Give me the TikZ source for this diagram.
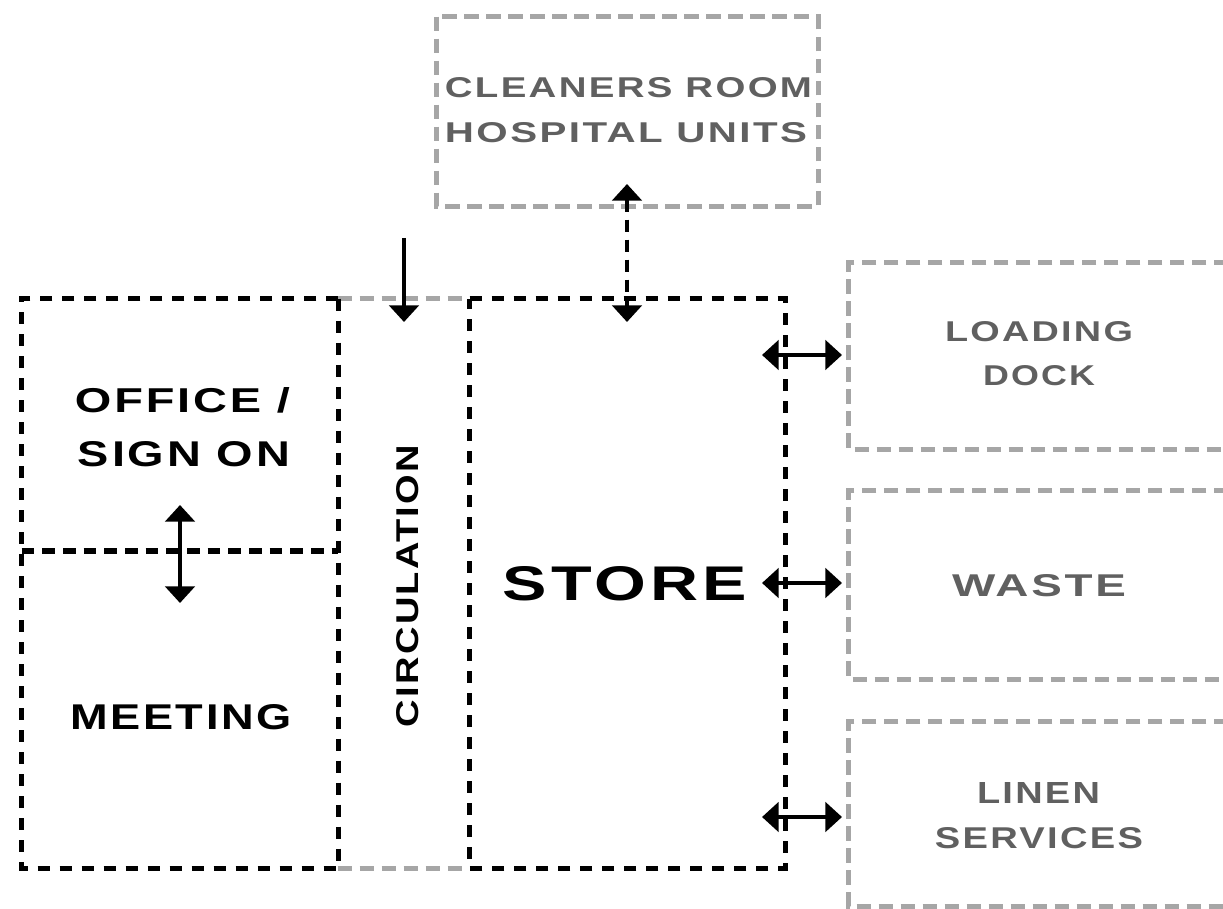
\documentclass[tikz,border=0pt]{standalone}
\usepackage{fontspec}
\usepackage{graphicx}
\usetikzlibrary{arrows.meta,fit}
\newfontfamily\wf[LetterSpace=6]{Liberation Sans}
\newdimen\pxu \pxu=0.75pt
\newcommand{\lab}[3]{\resizebox{#1\pxu}{#2\pxu}{\wf\bfseries #3}}
\definecolor{lgray}{HTML}{A6A6A6}
\definecolor{tgray}{HTML}{606060}
\tikzset{
  blk/.style={draw=black, line width=3.5pt, dash pattern=on 9pt off 7.5pt},
  divline/.style={draw=black, line width=4.2pt, dash pattern=on 9.5pt off 6pt},
  gry/.style={draw=lgray, line width=3.5pt, dash pattern=on 11pt off 5.5pt},
  area/.style={inner sep=0pt, draw=none},
  btxt/.style={inner sep=0pt, anchor=base, text=black},
  gtxt/.style={inner sep=0pt, anchor=base, text=tgray},
  arr/.style={line width=3pt, -{Triangle[length=12.5pt,width=22pt]}},
  dblarr/.style={line width=3pt, {Triangle[length=12.5pt,width=22pt]}-{Triangle[length=12.5pt,width=22pt]}},
  dshdbl/.style={line width=3pt, dash pattern=on 9pt off 6pt, {Triangle[length=12.5pt,width=22pt]}-{Triangle[length=12.5pt,width=22pt]}}
}
\begin{document}
\begin{tikzpicture}[x=0.75pt,y=-0.75pt]
\useasboundingbox (0,0) rectangle (1223,909);
\clip (0,0) rectangle (1223,909);
% areas
\node[area, fit={(437,17)(818,206)}] (cleaners) {};
\node[area, fit={(849,263)(1250,449)}] (loading) {};
\node[area, fit={(849,491)(1250,679)}] (waste) {};
\node[area, fit={(849,722)(1250,906)}] (linen) {};
\node[area, fit={(22,299)(338,551)}] (office) {};
\node[area, fit={(22,551)(338,868)}] (meeting) {};
\node[area, fit={(338,299)(470,868)}] (circ) {};
\node[area, fit={(470,299)(785,868)}] (store) {};
% gray outlines
\draw[gry] (cleaners.north west) rectangle (cleaners.south east);
\draw[gry] (loading.north east) -- (loading.north west) -- (loading.south west) -- (loading.south east);
\draw[gry] (waste.north east) -- (waste.north west) -- (waste.south west) -- (waste.south east);
\draw[gry] (linen.north east) -- (linen.north west) -- (linen.south west) -- (linen.south east);
\draw[gry] (circ.north west) -- (circ.north east);
\draw[gry] (circ.south west) -- (circ.south east);
% black outlines
\draw[blk] (office.north east) -- (office.north west) -- (meeting.south west) -- (meeting.south east);
\draw[blk] (office.north east) -- (meeting.south east);
\draw[blk] (store.north west) -- (store.north east) -- (store.south east) -- (store.south west) -- cycle;
\draw[divline] (office.south west) -- (office.south east);
% texts
\node[gtxt] (t1) at (628.5,98) {\lab{367}{20}{CLEANERS ROOM}};
\node[gtxt] (t2) at (626,143) {\lab{362}{20}{HOSPITAL UNITS}};
\node[btxt] (t3) at (182.5,412) {\lab{215}{25}{OFFICE /}};
\node[btxt] (t4) at (184,466) {\lab{212}{25}{SIGN ON}};
\node[btxt] (t5) at (181,729) {\lab{222}{25}{MEETING}};
\node[btxt, rotate=90] (t6) at (418,586) {\lab{282}{22}{CIRCULATION}};
\node[btxt] (t7) at (625,600) {\lab{244}{34}{STORE}};
\node[gtxt] (t8) at (1039,341) {\lab{188}{20}{LOADING}};
\node[gtxt] (t9) at (1039,385) {\lab{112}{20}{DOCK}};
\node[gtxt] (t10) at (1039,596) {\lab{174}{22}{WASTE}};
\node[gtxt] (t11) at (1038.5,803) {\lab{123}{21}{LINEN}};
\node[gtxt] (t12) at (1039,848) {\lab{208}{21}{SERVICES}};
% arrow ends
\coordinate (inS) at (404,238);
\coordinate (inE) at (404,322);
\coordinate (clA) at (627,184);
\coordinate (clB) at (627,322);
\coordinate (omA) at (180,505);
\coordinate (omB) at (180,603);
\coordinate (ldA) at (762,355);
\coordinate (ldB) at (842,355);
\coordinate (wsA) at (762,583);
\coordinate (wsB) at (842,583);
\coordinate (lnA) at (762,817);
\coordinate (lnB) at (842,817);
% arrows
\draw[arr] (inS) -- (inE);
\draw[dshdbl] (clA) -- (clB);
\draw[dblarr] (omA) -- (omB);
\draw[dblarr] (ldA) -- (ldB);
\draw[dblarr] (wsA) -- (wsB);
\draw[dblarr] (lnA) -- (lnB);
\end{tikzpicture}
\end{document}
